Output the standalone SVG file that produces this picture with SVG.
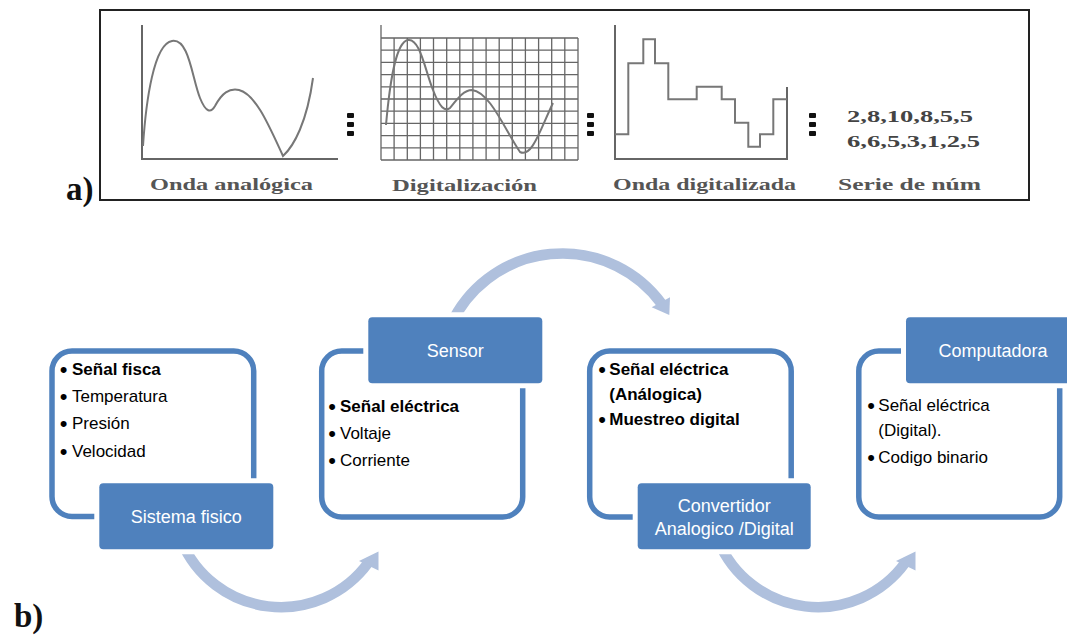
<svg xmlns="http://www.w3.org/2000/svg" width="1067" height="635" viewBox="0 0 1067 635">
<style>
.lbl{font-family:"Liberation Serif",serif;font-weight:bold;font-size:33px;fill:#111}
.cap{font-family:"Liberation Serif",serif;font-weight:bold;font-size:17px;fill:#555}
.num{font-family:"Liberation Serif",serif;font-weight:bold;font-size:17px;fill:#444}
.ax{fill:none;stroke:#666;stroke-width:2}
.wave{fill:none;stroke:#777;stroke-width:2}
.grid{fill:none;stroke:#666;stroke-width:1.3}
.sep{fill:#111}
.outline{fill:#fff;stroke:#4f81bd;stroke-width:5.5}
.hdr{fill:#4f81bd;stroke:#fff;stroke-width:10;paint-order:stroke}
.ht{font-family:"Liberation Sans",Arial,sans-serif;font-size:18px;fill:#fff;text-anchor:middle}
.bt{font-family:"Liberation Sans",Arial,sans-serif;font-size:17px;fill:#000}
.b{font-weight:bold}
.bul{font-family:"Liberation Sans",Arial,sans-serif;font-size:22px;fill:#000}
.arc{fill:none;stroke:#afc0dd;stroke-width:10.5}
.head{fill:#afc0dd}
</style>

<!-- Part a -->
<g id="part-a">
  <rect x="100" y="10" width="929" height="190" fill="#fff" stroke="#222" stroke-width="2"/>
  <text class="lbl" x="66" y="200">a)</text>

  <g id="analog">
    <path class="ax" d="M142,25 V159 H338"/>
    <path class="wave" d="M143,146 C146,100 154,44 172,41 C189,38 192,78 200,98 C206,113 211,113 215,106 C222,93 229,88 239,90 C256,94 270,128 283,156 C294,146 307,122 313,78"/>
    <text class="cap" x="150" y="190" textLength="163" lengthAdjust="spacingAndGlyphs">Onda analógica</text>
  </g>

  <g id="sep1" class="sep">
    <rect x="347" y="113" width="7" height="5" rx="1"/>
    <rect x="347" y="122" width="7" height="5" rx="1"/>
    <rect x="347" y="131" width="7" height="5" rx="1"/>
  </g>

  <g id="digitalizacion">
    <path class="grid" d="M381,25 V160 M394.1,38 V160 M407.3,38 V160 M420.4,38 V160 M433.5,38 V160 M446.7,38 V160 M459.8,38 V160 M472.9,38 V160 M486.1,38 V160 M499.2,38 V160 M512.3,38 V160 M525.4,38 V160 M538.6,38 V160 M551.7,38 V160 M564.8,38 V160 M578,38 V160 M381,38 H578 M381,50.2 H578 M381,62.4 H578 M381,74.6 H578 M381,86.8 H578 M381,99 H578 M381,111.2 H578 M381,123.4 H578 M381,135.6 H578 M381,147.8 H578 M381,160 H578"/>
    <path class="wave" stroke="#444" d="M386,125 C390,80 396,42 408,40 C420,38 425,70 433,90 C440,108 445,112 450,108 C458,98 464,90 472,90 C490,92 505,130 520,152 C532,158 540,130 553,103"/>
    <text class="cap" x="392" y="191" textLength="145" lengthAdjust="spacingAndGlyphs">Digitalización</text>
  </g>

  <g id="sep2" class="sep">
    <rect x="587" y="113" width="7" height="5" rx="1"/>
    <rect x="587" y="122" width="7" height="5" rx="1"/>
    <rect x="587" y="131" width="7" height="5" rx="1"/>
  </g>

  <g id="onda-digital">
    <path class="ax" d="M615,25 V159 H787 V87"/>
    <path class="wave" d="M615,134.3 H628.3 V63.3 H643.3 V39.3 H655 V63.3 H668.3 V99.3 H696.7 V86.7 H721.7 V99.3 H735 V122.7 H748.3 V146.7 H760 V134.3 H773.3 V99.3 H787"/>
    <text class="cap" x="613" y="190" textLength="183" lengthAdjust="spacingAndGlyphs">Onda digitalizada</text>
  </g>

  <g id="sep3" class="sep">
    <rect x="809" y="113" width="7" height="5" rx="1"/>
    <rect x="809" y="122" width="7" height="5" rx="1"/>
    <rect x="809" y="131" width="7" height="5" rx="1"/>
  </g>

  <g id="serie">
    <text class="num" x="847" y="122" textLength="126" lengthAdjust="spacingAndGlyphs">2,8,10,8,5,5</text>
    <text class="num" x="847" y="147" textLength="133" lengthAdjust="spacingAndGlyphs">6,6,5,3,1,2,5</text>
    <text class="cap" x="838" y="190" textLength="143" lengthAdjust="spacingAndGlyphs">Serie de núm</text>
  </g>
</g>

<!-- Part b -->
<text class="lbl" x="14" y="627">b)</text>

<g id="connectors">
  <path class="arc" d="M181,540 A108,108 0 0 0 368.4,562.5"/>
  <polygon class="head" points="359,561 378.5,551.5 378.5,570.5"/>
  <path class="arc" d="M450.7,325 A123,123 0 0 1 661.9,304.1"/>
  <polygon class="head" points="651.7,307.3 670,297.3 669.3,315"/>
  <path class="arc" d="M718,540 A108,108 0 0 0 905.4,562.5"/>
  <polygon class="head" points="896,561 915.5,551.5 915.5,570.5"/>
</g>

<g id="node-sistema">
  <rect class="outline" x="52" y="351" width="201.7" height="165.5" rx="20"/>
  <text class="bul" x="59.8" y="377">•</text><text class="bt b" x="72" y="375">Señal fisca</text>
  <text class="bul" x="59.8" y="404.2">•</text><text class="bt" x="72" y="402.2">Temperatura</text>
  <text class="bul" x="59.8" y="431.4">•</text><text class="bt" x="72" y="429.4">Presión</text>
  <text class="bul" x="59.8" y="458.6">•</text><text class="bt" x="72" y="456.6">Velocidad</text>
  <rect class="hdr" x="99.3" y="483.3" width="174" height="66" rx="4"/>
  <text class="ht" x="186.3" y="523">Sistema fisico</text>
</g>

<g id="node-sensor">
  <rect class="outline" x="321.7" y="351" width="201" height="166" rx="20"/>
  <text class="bul" x="328.3" y="413.5">•</text><text class="bt b" x="340" y="411.5">Señal eléctrica</text>
  <text class="bul" x="328.3" y="441">•</text><text class="bt" x="340" y="439">Voltaje</text>
  <text class="bul" x="328.3" y="468">•</text><text class="bt" x="340" y="466">Corriente</text>
  <rect class="hdr" x="368.3" y="317.3" width="174" height="66" rx="4"/>
  <text class="ht" x="455.3" y="357">Sensor</text>
</g>

<g id="node-convertidor">
  <rect class="outline" x="589.7" y="351" width="201.5" height="166" rx="20"/>
  <text class="bul" x="598.3" y="377">•</text><text class="bt b" x="609.3" y="375">Señal eléctrica</text>
  <text class="bt b" x="609.3" y="399.5">(Análogica)</text>
  <text class="bul" x="598.3" y="427">•</text><text class="bt b" x="609.3" y="425">Muestreo digital</text>
  <rect class="hdr" x="637.7" y="483.3" width="173" height="66" rx="4"/>
  <text class="ht" x="724.2" y="511.7">Convertidor</text>
  <text class="ht" x="724.2" y="534.5">Analogico /Digital</text>
</g>

<g id="node-computadora">
  <rect class="outline" x="858.8" y="351" width="200.9" height="166" rx="20"/>
  <text class="bul" x="867.3" y="413">•</text><text class="bt" x="878.3" y="411">Señal eléctrica</text>
  <text class="bt" x="878.3" y="435.5">(Digital).</text>
  <text class="bul" x="867.3" y="464.5">•</text><text class="bt" x="878.3" y="462.5">Codigo binario</text>
  <rect class="hdr" x="906" y="317.3" width="174" height="66" rx="4"/>
  <text class="ht" x="993" y="357">Computadora</text>
</g>
</svg>
